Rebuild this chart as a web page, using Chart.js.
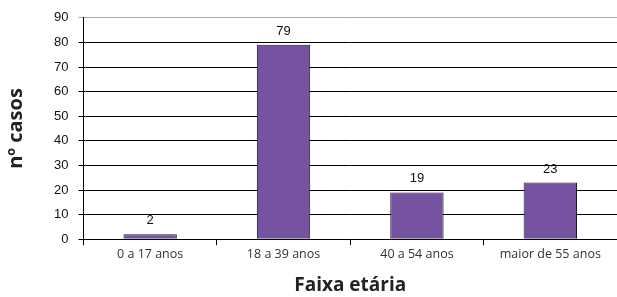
<!DOCTYPE html>
<html lang="pt">
<head>
  <meta charset="UTF-8" />
  <title>Faixa etária</title>
  <script src="https://cdn.jsdelivr.net/npm/chart.js"></script>
  <style>
    html, body { margin: 0; padding: 0; background: #fff; }
    #wrap { width: 617px; height: 297px; }
  </style>
</head>
<body>
  <div id="wrap"><canvas id="chart"></canvas></div>
  <script>
    const faixas = ['0 a 17 anos', '18 a 39 anos', '40 a 54 anos', 'maior de 55 anos'];
    const casos = [2, 79, 19, 23];
    const yTicks = [0, 10, 20, 30, 40, 50, 60, 70, 80, 90];

    // numbers on top of the bars
    const valueLabels = {
      id: 'valueLabels',
      afterDatasetsDraw(chart) {
        const ctx = chart.ctx;
        const meta = chart.getDatasetMeta(0);
        ctx.save();
        ctx.font = '13px Arial, "Liberation Sans", sans-serif';
        ctx.fillStyle = '#111';
        ctx.textAlign = 'center';
        ctx.textBaseline = 'alphabetic';
        meta.data.forEach((bar, i) => {
          ctx.fillText(casos[i], bar.x, bar.y - 10);
        });
        ctx.restore();
      }
    };

    new Chart(document.getElementById('chart'), {
      type: 'bar',
      data: {
        labels: faixas,
        datasets: [{
          data: casos,
          backgroundColor: '#7652a2',
          borderColor: '#1a1a1a',
          borderWidth: 1,
          barPercentage: 0.4,
          categoryPercentage: 1
        }]
      },
      options: {
        responsive: true,
        maintainAspectRatio: false,
        animation: false,
        layout: { padding: { top: 17, right: 0, left: 4, bottom: 0 } },
        plugins: {
          legend: { display: false },
          tooltip: { enabled: false }
        },
        scales: {
          x: {
            grid: {
              offset: true,
              drawOnChartArea: false,
              color: '#000',
              tickLength: 6
            },
            border: { color: '#000' },
            ticks: {
              color: '#333',
              font: { family: '"Open Sans"', size: 12.5 },
              padding: 2
            },
            title: {
              display: true,
              text: 'Faixa etária',
              color: '#222',
              font: { family: '"Open Sans"', size: 19, weight: 'bold' },
              padding: { top: 10, bottom: 0 }
            }
          },
          y: {
            min: 0,
            max: 90,
            afterBuildTicks: axis => { axis.ticks = yTicks.map(v => ({ value: v })); },
            grid: {
              color: c => (c.tick && c.tick.value === 90 ? '#aaa' : '#000'),
              tickLength: 5
            },
            border: { color: '#000' },
            ticks: {
              color: '#111',
              font: { family: 'Arial, "Liberation Sans"', size: 13 },
              padding: 10
            },
            title: {
              display: true,
              text: 'nº casos',
              color: '#222',
              font: { family: '"Open Sans"', size: 20, weight: 'bold' },
              padding: { top: 0, bottom: 16 }
            }
          }
        }
      },
      plugins: [valueLabels]
    });
  </script>
</body>
</html>
